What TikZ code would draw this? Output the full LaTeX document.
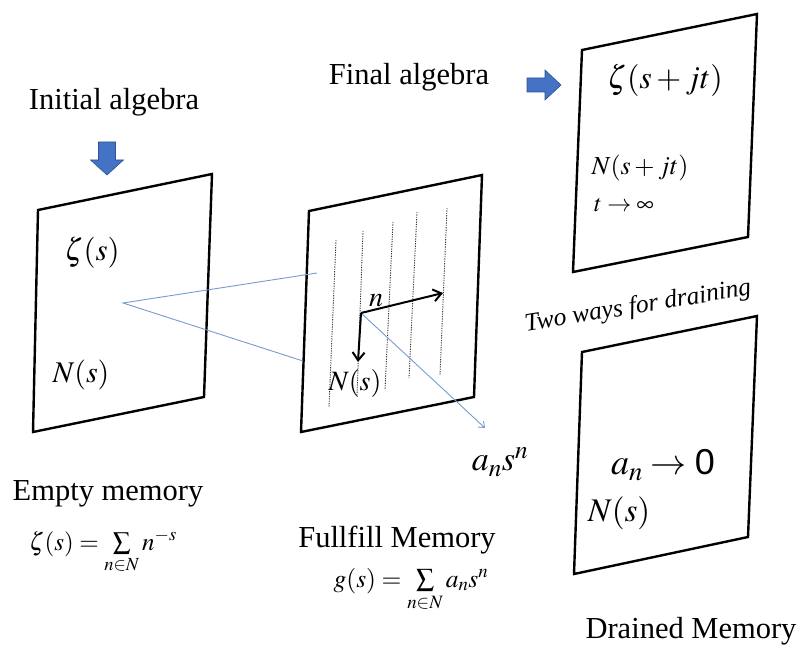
\documentclass[tikz,border=0pt]{standalone}
\usepackage{mathptmx}
\usepackage[no-math]{fontspec}
\setmainfont{Liberation Serif}
\setsansfont{Liberation Sans}
\usetikzlibrary{calc, arrows.meta}

\definecolor{officeblue}{RGB}{68,114,196}
\definecolor{officeedge}{RGB}{47,82,143}
\definecolor{rayblue}{RGB}{120,155,205}

\tikzset{
    panel/.style={line width=2.4pt, line join=miter},
    title/.style={font=\fontsize{30.5}{36}\selectfont, anchor=base, inner sep=0pt},
    sym/.style={font=\fontsize{#1}{#1}\selectfont, inner sep=0pt},
    ray/.style={rayblue, line width=0.9pt},
    grid/.style={dash pattern=on 1.2pt off 1.2pt, black!80, line width=0.9pt},
    axis/.style={line width=2pt, -{Straight Barb[length=8pt, width=12pt, line width=2pt]}},
    blockarrow/.style={fill=officeblue, draw=officeedge, line width=0.6pt},
}

\begin{document}
\begin{tikzpicture}[x=1pt, y=-1pt]
    \useasboundingbox (0,0) rectangle (800,652);

    % empty memory
    \coordinate (E1) at (38,210);
    \coordinate (E2) at (212,174);
    \coordinate (E3) at (204,397);
    \coordinate (E4) at (33,432);
    \draw[panel] (E1) -- (E2) -- (E3) -- (E4) -- cycle;

    % fullfill memory
    \coordinate (M1) at (309,211);
    \coordinate (M2) at (482,175);
    \coordinate (M3) at (474,397);
    \coordinate (M4) at (301,432);
    \draw[panel] (M1) -- (M2) -- (M3) -- (M4) -- cycle;

    % final algebra
    \coordinate (F1) at (582,50);
    \coordinate (F2) at (757,14);
    \coordinate (F3) at (748,237);
    \coordinate (F4) at (573,272);
    \draw[panel] (F1) -- (F2) -- (F3) -- (F4) -- cycle;

    % drained memory
    \coordinate (D1) at (582,352);
    \coordinate (D2) at (757,316);
    \coordinate (D3) at (748,537);
    \coordinate (D4) at (574,574);
    \draw[panel] (D1) -- (D2) -- (D3) -- (D4) -- cycle;

    % dotted columns
    \foreach \xa/\ya/\xb/\yb in {336/240/329/407, 363/231/357/395,
        393/222/385/390, 417/212/409/378, 447/208/440/375}
        \draw[grid] (\xa,\ya) -- (\xb,\yb);

    % rays between the panels
    \coordinate (apex) at (123,303);
    \coordinate (hitA) at (317,273);
    \coordinate (hitB) at (303,361);
    \draw[ray] (hitA) -- (apex) -- (hitB);

    \coordinate (O) at (361,313);
    \coordinate (nEnd) at (443,293);
    \coordinate (NEnd) at (358,362);
    \coordinate (rayEnd) at (485,428);
    \draw[ray, -{Straight Barb[length=5pt, width=8pt]}] (O) -- (rayEnd);
    \draw[axis] (O) -- (nEnd);
    \draw[axis] (O) -- (NEnd);

    % block arrows
    \draw[blockarrow] (98.5,142) -- (115.5,142) -- (115.5,160) -- (123.5,160)
        -- (107,175) -- (90.5,160) -- (98.5,160) -- cycle;
    \draw[blockarrow] (527,78) -- (545,78) -- (545,70) -- (561,85)
        -- (545,100) -- (545,92) -- (527,92) -- cycle;

    % texts
    \node[title] (initial) at (114,110) {Initial algebra};
    \node[title] (final) at (409,85) {Final algebra};
    \node[title] (empty) at (108,500) {Empty memory};
    \node[title] (fullfill) at (397,547) {Fullfill Memory};
    \node[title] (drained) at (691,638) {Drained Memory};
    \node[anchor=base, inner sep=0pt, rotate=9.2,
        font=\fontsize{25.4}{30}\selectfont\itshape] (ways) at (639,313)
        {Two ways for draining};

    \node[sym=31] (zetaE) at (92,253) {$\zeta(s)$};
    \node[sym=30] (NE) at (81,375) {$N(s)$};
    \node[sym=28] (nM) at (376,301) {$n$};
    \node[sym=28] (NM) at (355,383) {$N(s)$};
    \node[sym=34] (ansn) at (500,462) {$a_n s^n$};
    \node[sym=32] (zetaF) at (665,80) {$\zeta(s+jt)$};
    \node[sym=26] (NF) at (640,168) {$N(s+jt)$};
    \node[sym=24] (tF) at (624,205) {$t\to\infty$};
    \node[sym=36] (anD) at (663,465) {$a_n\to\textsf{0}$};
    \node[sym=33] (ND) at (619,513) {$N(s)$};

    \node[sym=25, anchor=base] (zetaSum) at (103,550)
        {$\zeta(s)=\sum\limits_{n\in N} n^{-s}$};
    \node[sym=25.5, anchor=base] (gSum) at (411,587)
        {$g(s)=\sum\limits_{n\in N} a_n s^n$};
\end{tikzpicture}
\end{document}
